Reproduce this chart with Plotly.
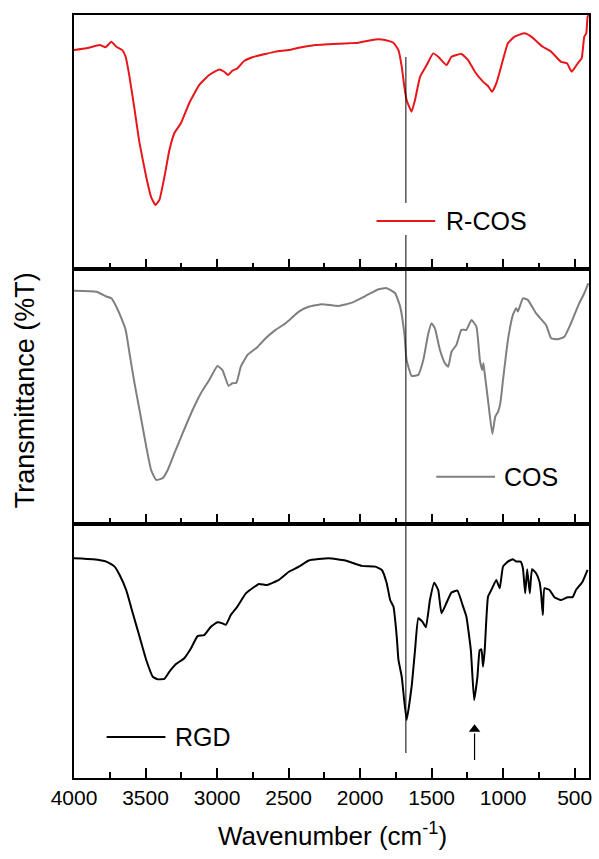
import plotly.graph_objects as go
from plotly.subplots import make_subplots

FONT = "Liberation Sans, Arial, sans-serif"

# R-COS spectrum
rcos_wn = [4000, 3913, 3820, 3779, 3739, 3704, 3662, 3639, 3612, 3576,
           3542, 3495, 3461, 3431, 3403, 3368, 3333, 3298, 3252, 3194,
           3124, 3055, 2985, 2950, 2923, 2893, 2858, 2811, 2753, 2660,
           2591, 2498, 2428, 2312, 2080, 2011, 1894, 1825, 1767, 1732,
           1709, 1691, 1675, 1640, 1616, 1581, 1535, 1489, 1454, 1396,
           1361, 1292, 1245, 1198, 1141, 1106, 1078, 1048, 1008, 967,
           920, 850, 804, 723, 665, 596, 554, 521, 479, 451,
           433, 419, 410, 403]
rcos_t = [86.2, 86.9, 88.2, 87.3, 89.5, 87.5, 86.2, 83.6, 75.7, 62.6,
          49.7, 36.3, 28.4, 25.3, 27.3, 36.3, 46.9, 53.6, 57.5, 65.4,
          72.5, 76.4, 78.6, 77.7, 76.4, 78.1, 79.0, 81.9, 83.4, 84.7,
          85.6, 86.2, 87.1, 88.2, 88.9, 89.1, 90.4, 90.2, 89.1, 86.2,
          79.7, 71.8, 66.6, 62.0, 66.6, 75.7, 80.3, 84.9, 83.6, 80.3,
          83.6, 84.7, 82.3, 77.7, 73.8, 72.1, 69.8, 73.1, 81.0, 88.9,
          91.5, 92.8, 91.5, 87.5, 85.6, 81.6, 81.0, 77.7, 81.0, 83.0,
          91.5, 92.8, 99.3, 100.0]

# COS spectrum
cos_wn = [4000, 3843, 3774, 3739, 3704, 3669, 3639, 3612, 3577, 3542,
          3495, 3461, 3426, 3380, 3345, 3298, 3241, 3171, 3113, 3055,
          2997, 2962, 2920, 2893, 2865, 2834, 2788, 2719, 2660, 2591,
          2521, 2428, 2359, 2266, 2150, 2057, 1964, 1872, 1814, 1755,
          1720, 1691, 1675, 1640, 1593, 1558, 1523, 1500, 1477, 1442,
          1407, 1384, 1361, 1327, 1292, 1257, 1222, 1187, 1163, 1147,
          1138, 1129, 1106, 1076, 1055, 1036, 1020, 1001, 967, 932,
          909, 897, 862, 828, 770, 700, 665, 619, 572, 526,
          468, 433, 405]
cos_t = [91.6, 91.2, 89.3, 88.6, 85.3, 80.8, 76.2, 67.0, 55.2, 44.7,
         30.3, 21.1, 17.2, 17.9, 21.1, 27.7, 35.5, 44.7, 51.3, 56.5,
         62.0, 60.4, 54.2, 55.2, 55.4, 61.7, 66.3, 69.4, 72.9, 76.2,
         78.8, 83.4, 85.3, 86.3, 85.6, 86.9, 89.5, 92.2, 92.6, 90.6,
         85.3, 74.9, 64.4, 58.1, 58.5, 64.4, 74.9, 78.8, 76.8, 68.3,
         63.1, 61.7, 67.6, 70.3, 76.2, 76.2, 80.1, 77.5, 64.4, 60.4,
         63.1, 59.1, 48.6, 35.3, 42.1, 44.0, 47.3, 56.5, 72.2, 82.1,
         84.7, 83.4, 88.6, 88.0, 82.7, 78.1, 72.9, 72.5, 73.5, 78.8,
         86.7, 90.6, 94.5]

# RGD spectrum
rgd_wn = [4000, 3867, 3774, 3716, 3681, 3635, 3589, 3542, 3495, 3449,
          3415, 3368, 3333, 3287, 3229, 3182, 3136, 3090, 3043, 2997,
          2962, 2939, 2904, 2858, 2799, 2753, 2707, 2649, 2568, 2498,
          2428, 2359, 2220, 2103, 1988, 1894, 1848, 1814, 1790, 1767,
          1744, 1732, 1709, 1675, 1640, 1616, 1593, 1565, 1540, 1512,
          1482, 1454, 1431, 1396, 1361, 1320, 1280, 1257, 1226, 1203,
          1180, 1164, 1152, 1141, 1129, 1106, 1083, 1048, 1024, 1001,
          967, 932, 909, 878, 862, 846, 832, 814, 798, 770,
          746, 735, 723, 711, 676, 642, 596, 549, 514, 491,
          445, 410]
rgd_t = [86.4, 86.0, 85.1, 83.1, 79.8, 73.9, 64.8, 55.6, 46.4, 39.8,
         38.8, 39.0, 41.8, 44.8, 47.1, 51.0, 55.8, 56.2, 59.5, 61.2,
         60.8, 60.2, 64.1, 67.4, 72.6, 74.6, 76.3, 75.9, 77.9, 81.1,
         83.1, 85.5, 86.4, 85.5, 83.4, 83.1, 81.8, 76.6, 70.0, 67.4,
         55.6, 46.4, 39.8, 22.8, 35.9, 50.3, 62.8, 61.5, 59.3, 70.0,
         76.8, 73.9, 64.8, 68.9, 72.9, 73.7, 67.4, 63.4, 50.3, 30.7,
         39.8, 50.3, 50.6, 43.8, 50.3, 71.3, 73.9, 77.9, 74.6, 83.1,
         85.1, 86.0, 85.1, 85.1, 82.5, 72.6, 82.1, 72.6, 82.1, 80.5,
         77.2, 72.6, 64.1, 74.6, 73.9, 71.1, 70.0, 71.1, 71.1, 73.9,
         77.2, 81.8]

series_names = ["R-COS", "COS", "RGD"]
series_colors = ["#e8161b", "#7f7f7f", "#000000"]

x_range = [4000, 400]
t_range = [0, 100]

# reference band marker (C=O region): extent of the line in each panel,
# broken around the R-COS key
band_wn = 1680
band_segments = {1: [(83.5, 26.1), (13.5, 0.0)],
                 2: [(100.0, 0.0)],
                 3: [(100.0, 9.8)]}

# arrow under the 1200 cm-1 band of RGD
arrow_wn = 1200
arrow_tail_t = 7.1
arrow_shaft_top_t = 17.5
arrow_head_t = 19.2

# key lines: (row, start wavenumber, end wavenumber, level)
key_lines = [(1, 1885, 1475, 19.0), (2, 1468, 1057, 18.4), (3, 3772, 3361, 16.1)]
# key text positions in paper coordinates
key_text_pos = [(0.7181, 0.730), (0.8320, 0.3945), (0.1930, 0.0537)]

fig = make_subplots(rows=3, cols=1, vertical_spacing=0)


def add_line(row, xs, ys, color, width):
    fig.add_trace(go.Scatter(x=xs, y=ys, mode="lines",
                             line=dict(color=color, width=width),
                             showlegend=False, hoverinfo="skip"),
                  row=row, col=1)


for row, (wn, t, name, color) in enumerate(
        zip([rcos_wn, cos_wn, rgd_wn], [rcos_t, cos_t, rgd_t],
            series_names, series_colors), start=1):
    fig.add_trace(go.Scatter(x=wn, y=t, mode="lines", name=name,
                             line=dict(color=color, width=2, shape="spline",
                                       smoothing=0.4),
                             showlegend=False, hoverinfo="skip"),
                  row=row, col=1)
    bx, by = [], []
    for top, bottom in band_segments[row]:
        bx += [band_wn, band_wn, None]
        by += [top, bottom, None]
    add_line(row, bx, by, "black", 1)

# key lines
for (row, x0, x1, lvl), color in zip(key_lines, series_colors):
    add_line(row, [x0, x1], [lvl, lvl], color, 2)

# arrow: shaft and head
add_line(3, [arrow_wn, arrow_wn], [arrow_tail_t, arrow_shaft_top_t], "black", 1.2)
fig.add_trace(go.Scatter(x=[arrow_wn], y=[arrow_head_t], mode="markers",
                         marker=dict(symbol="triangle-up", size=10,
                                     color="black", line=dict(width=0)),
                         showlegend=False, hoverinfo="skip"),
              row=3, col=1)

for row in (1, 2, 3):
    fig.update_xaxes(range=x_range, dtick=500, tick0=0,
                     ticks="inside", ticklen=10, tickwidth=2,
                     tickcolor="black",
                     minor=dict(dtick=250, ticks="inside", ticklen=6,
                                tickwidth=2, tickcolor="black"),
                     showline=True, linewidth=2, linecolor="black",
                     mirror=True, showgrid=False, zeroline=False,
                     row=row, col=1)
fig.update_xaxes(showticklabels=False, row=1, col=1)
fig.update_xaxes(showticklabels=False, row=2, col=1)
fig.update_xaxes(tickfont=dict(family=FONT, size=21, color="black"),
                 row=3, col=1)
fig.update_yaxes(range=t_range, showline=True, linewidth=2,
                 linecolor="black", mirror=True,
                 showticklabels=False, showgrid=False, zeroline=False)

annotations = []
for (tx, ty), name in zip(key_text_pos, series_names):
    annotations.append(dict(xref="paper", yref="paper", x=tx, y=ty,
                            text=name, showarrow=False, xanchor="left",
                            yanchor="middle",
                            font=dict(family=FONT, size=25, color="black")))

# axis titles
annotations.append(dict(xref="paper", yref="paper", x=-0.0946, y=0.5085,
                        text="Transmittance (%T)", textangle=-90,
                        showarrow=False, xanchor="center", yanchor="middle",
                        font=dict(family=FONT, size=27, color="black")))
annotations.append(dict(xref="paper", yref="paper", x=0.502, y=-0.0747,
                        text="Wavenumber (cm<sup>-1</sup>)",
                        showarrow=False, xanchor="center", yanchor="middle",
                        font=dict(family=FONT, size=26, color="black")))

fig.update_layout(width=599, height=859,
                  margin=dict(l=74, r=7, t=15, b=81),
                  paper_bgcolor="white", plot_bgcolor="white",
                  annotations=annotations,
                  font=dict(family=FONT, color="black"))

fig.write_html("out.html")
